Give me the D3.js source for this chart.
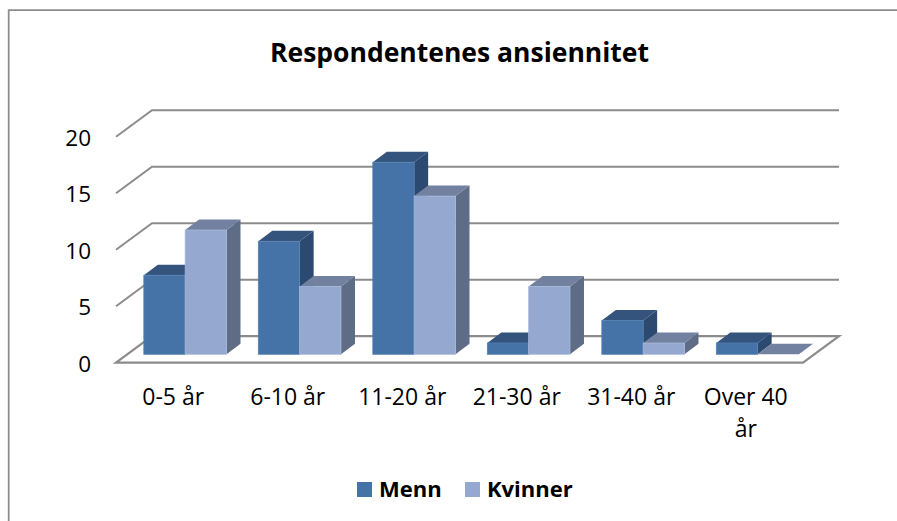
<!DOCTYPE html>
<html>
<head>
<meta charset="utf-8">
<script src="https://cdn.jsdelivr.net/npm/d3@7"></script>
<style>
  html, body { margin: 0; padding: 0; background: #fff; }
  svg { display: block; }
  text { font-family: "Open Sans", sans-serif; fill: #000; }
</style>
</head>
<body>
<div id="chart"></div>
<script>
const categories = ["0-5 år", "6-10 år", "11-20 år", "21-30 år", "31-40 år", "Over 40 år"];
const menn = [7, 10, 17, 1, 3, 1];
const kvinner = [11, 6, 14, 6, 1, 0];
const yTicks = [0, 5, 10, 15, 20];

const width = 897, height = 521;

// front edge of the floor and the depth of the 3d box
const front = { left: 116, right: 803, bottom: 362.7, top: 136.7 };
const depth = { x: 36, y: 26.5 };
const barDepth = { x: 14, y: 10.5 }; // how far a bar goes back
const barShift = { x: 11.9, y: 8.4 }; // bars stand a bit in from the floor edge

const svg = d3.select("#chart")
    .append("svg")
    .attr("width", width)
    .attr("height", height)
    .attr("viewBox", [0, 0, width, height]);

// only the top and left edges of the frame are in the picture
svg.append("path")
    .attr("d", "M8.7,521V10H897")
    .attr("fill", "none")
    .attr("stroke", "#8c8c8c")
    .attr("stroke-width", 1.75);

let x = d3.scaleBand()
    .domain(categories)
    .range([front.left, front.right]);

let y = d3.scaleLinear()
    .domain([0, 20])
    .range([front.bottom, front.top]);

const series = [
    { name: "Menn", values: menn, face: "#4572a7", top: "#34547e", side: "#2c4a70", edge: "#5480b3" },
    { name: "Kvinner", values: kvinner, face: "#95a8d0", top: "#72819f", side: "#5e6c85", edge: "#a8b9da" }
];

let x1 = d3.scaleBand()
    .domain(series.map(s => s.name))
    .range([0, x.bandwidth()])
    .paddingOuter(0.385)
    .paddingInner(0);

// gridlines: slanted part on the side wall, then along the back wall
svg.append("g")
    .selectAll("path")
    .data(yTicks.slice(1))
    .join("path")
    .attr("d", d => d3.line()([
        [front.left, y(d)],
        [front.left + depth.x, y(d) - depth.y],
        [front.right + depth.x, y(d) - depth.y]
    ]))
    .attr("fill", "none")
    .attr("stroke", "#8c8c8c")
    .attr("stroke-width", 2);

// floor
svg.append("path")
    .attr("d", d3.line()([
        [front.left, y(0)],
        [front.right, y(0)],
        [front.right + depth.x, y(0) - depth.y],
        [front.left + depth.x, y(0) - depth.y]
    ]) + "Z")
    .attr("fill", "#fff")
    .attr("stroke", "#8c8c8c")
    .attr("stroke-width", 2.25);

const poly = pts => d3.line()(pts) + "Z";

// bars, left to right so the nearer faces cover the sides
const bars = svg.append("g");
categories.forEach((c, i) => {
    series.forEach(s => {
        let x0 = x(c) + x1(s.name) + barShift.x,
            x2 = x0 + x1.bandwidth(),
            y0 = y(0) - barShift.y,
            y1 = y(s.values[i]) - barShift.y;

        bars.append("path")
            .attr("d", poly([[x2, y0], [x2 + barDepth.x, y0 - barDepth.y], [x2 + barDepth.x, y1 - barDepth.y], [x2, y1]]))
            .attr("fill", s.side);
        bars.append("path")
            .attr("d", poly([[x0, y1], [x2, y1], [x2 + barDepth.x, y1 - barDepth.y], [x0 + barDepth.x, y1 - barDepth.y]]))
            .attr("fill", s.top);
        if (s.values[i] > 0) {
            bars.append("rect")
                .attr("x", x0)
                .attr("y", y1)
                .attr("width", x2 - x0)
                .attr("height", y0 - y1)
                .attr("fill", s.face)
                .attr("stroke", s.edge)
                .attr("stroke-width", 0.75);
        }
    });
});

// y tick labels
svg.append("g")
    .selectAll("text")
    .data(yTicks)
    .join("text")
    .attr("x", 91)
    .attr("y", d => y(d) + 9)
    .attr("text-anchor", "end")
    .attr("font-size", 22.5)
    .text(d => d);

// category labels, the last one wraps in the original
const catLabels = svg.append("g")
    .selectAll("text")
    .data(categories)
    .join("text")
    .attr("text-anchor", "middle")
    .attr("font-size", 23);

catLabels.each(function (d) {
    let parts = d === "Over 40 år" ? ["Over 40", "år"] : [d];
    d3.select(this).selectAll("tspan")
        .data(parts)
        .join("tspan")
        .attr("x", x(d) + x.bandwidth() / 2)
        .attr("y", (p, j) => 404.5 + j * 32)
        .text(p => p);
});

// title
svg.append("text")
    .attr("x", 459.5)
    .attr("y", 61.5)
    .attr("text-anchor", "middle")
    .attr("font-size", 26.5)
    .attr("font-weight", "bold")
    .text("Respondentenes ansiennitet");

// legend
const legendX = [357, 465];
const legend = svg.append("g")
    .selectAll("g")
    .data(series)
    .join("g")
    .attr("transform", (d, i) => `translate(${legendX[i]},482)`);

legend.append("rect")
    .attr("width", 15)
    .attr("height", 15)
    .attr("fill", d => d.face);

legend.append("text")
    .attr("x", 22)
    .attr("y", 15)
    .attr("font-size", 22)
    .attr("font-weight", "bold")
    .text(d => d.name);
</script>
</body>
</html>
